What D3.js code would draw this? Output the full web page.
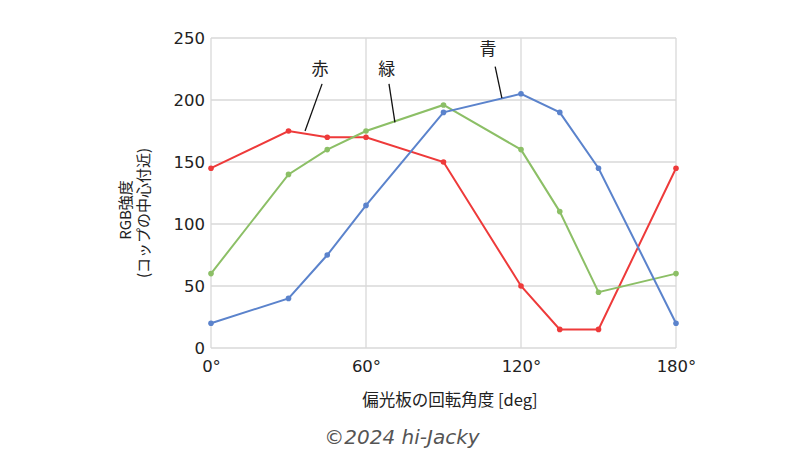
<!DOCTYPE html>
<html><head><meta charset="utf-8">
<script src="https://cdn.jsdelivr.net/npm/d3@7"></script>
<style>body{margin:0;background:#fff}svg{display:block}</style>
</head><body><svg id="c" width="800" height="450"></svg>
<script>
const angles = [0, 30, 45, 60, 90, 120, 135, 150, 180];
const red   = [145, 175, 170, 170, 150, 50, 15, 15, 145];
const green = [60, 140, 160, 175, 196, 160, 110, 45, 60];
const blue  = [20, 40, 75, 115, 190, 205, 190, 145, 20];
const xTicks = [0, 60, 120, 180];
const yTicks = [0, 50, 100, 150, 200, 250];
const seriesNames = ["赤", "緑", "青"];
const seriesColors = ["#ee3a3a", "#8cbf66", "#5b83cc"];
// annotation: text position [deg, value], leader line [deg1,val1,deg2,val2]
const annText = [[42.2, 224], [68, 224], [107.2, 240]];
const annLine = [[43, 213, 36.4, 175], [68.9, 213, 71.2, 182], [110, 227, 112.6, 201.6]];
const yTitle = ["RGB強度", "(コップの中心付近)"];

const svg = d3.select("#c");
const m = {l: 211, r: 124, t: 38, b: 102};
const W = 800 - m.l - m.r, H = 450 - m.t - m.b;
const x = d3.scaleLinear().domain([0, 180]).range([m.l, m.l + W]);
const y = d3.scaleLinear().domain([0, 250]).range([m.t + H, m.t]);
const font = "Verdana, 'DejaVu Sans', sans-serif";
const jp = "'Noto Sans CJK JP', sans-serif";

// grid
svg.append("g").selectAll("line").data(yTicks).join("line")
  .attr("x1", x(0)).attr("x2", x(180)).attr("y1", d => y(d)).attr("y2", d => y(d))
  .attr("stroke", "#d9d9d9").attr("stroke-width", 1.3);
svg.append("g").selectAll("line").data(xTicks).join("line")
  .attr("x1", d => x(d)).attr("x2", d => x(d)).attr("y1", y(0)).attr("y2", y(250))
  .attr("stroke", "#d9d9d9").attr("stroke-width", 1.3);

// axes labels
const yAxis = d3.axisLeft(y).tickValues(yTicks).tickSize(0).tickPadding(6);
const gy = svg.append("g").attr("transform", `translate(${x(0)},0)`).call(yAxis);
gy.select(".domain").remove();
gy.selectAll("text").attr("font-family", font).attr("font-size", 16.5).attr("fill", "#222");
const xAxis = d3.axisBottom(x).tickValues(xTicks).tickSize(0).tickPadding(12).tickFormat(d => d + "°");
const gx = svg.append("g").attr("transform", `translate(0,${y(0)})`).call(xAxis);
gx.select(".domain").remove();
gx.selectAll("text").attr("font-family", font).attr("font-size", 16.5).attr("fill", "#222");

// series
const series = [red, green, blue];
const line = d3.line().x((d, i) => x(angles[i])).y(d => y(d));
series.forEach((s, k) => {
  svg.append("path").datum(s).attr("d", line).attr("fill", "none")
    .attr("stroke", seriesColors[k]).attr("stroke-width", 2);
  svg.append("g").selectAll("circle").data(s).join("circle")
    .attr("cx", (d, i) => x(angles[i])).attr("cy", d => y(d)).attr("r", 2.8)
    .attr("fill", seriesColors[k]);
});

// annotations
seriesNames.forEach((n, k) => {
  svg.append("text").attr("x", x(annText[k][0])).attr("y", y(annText[k][1]))
    .attr("text-anchor", "middle").attr("dominant-baseline", "middle")
    .attr("font-family", jp).attr("font-size", 17).attr("fill", "#222").text(n);
  const a = annLine[k];
  svg.append("line").attr("x1", x(a[0])).attr("y1", y(a[1])).attr("x2", x(a[2])).attr("y2", y(a[3]))
    .attr("stroke", "#111").attr("stroke-width", 1.3);
});

// y title
yTitle.forEach((t, i) => {
  svg.append("text").attr("transform", `translate(${131 + i * 18},${210 + i * 3}) rotate(-90)`)
    .attr("text-anchor", "middle").attr("font-family", jp)
    .attr("font-size", 15).attr("fill", "#222").text(t);
});

// x title
svg.append("text").attr("x", 450).attr("y", 406).attr("text-anchor", "middle")
  .attr("font-family", jp).attr("font-size", 16.5).attr("fill", "#222")
  .text("偏光板の回転角度 [deg]");

// copyright
svg.append("text").attr("x", 402).attr("y", 444).attr("text-anchor", "middle")
  .attr("font-family", "'DejaVu Sans', sans-serif").attr("font-style", "italic").attr("font-size", 20)
  .attr("fill", "#555").text("©2024 hi-Jacky");
</script></body></html>
